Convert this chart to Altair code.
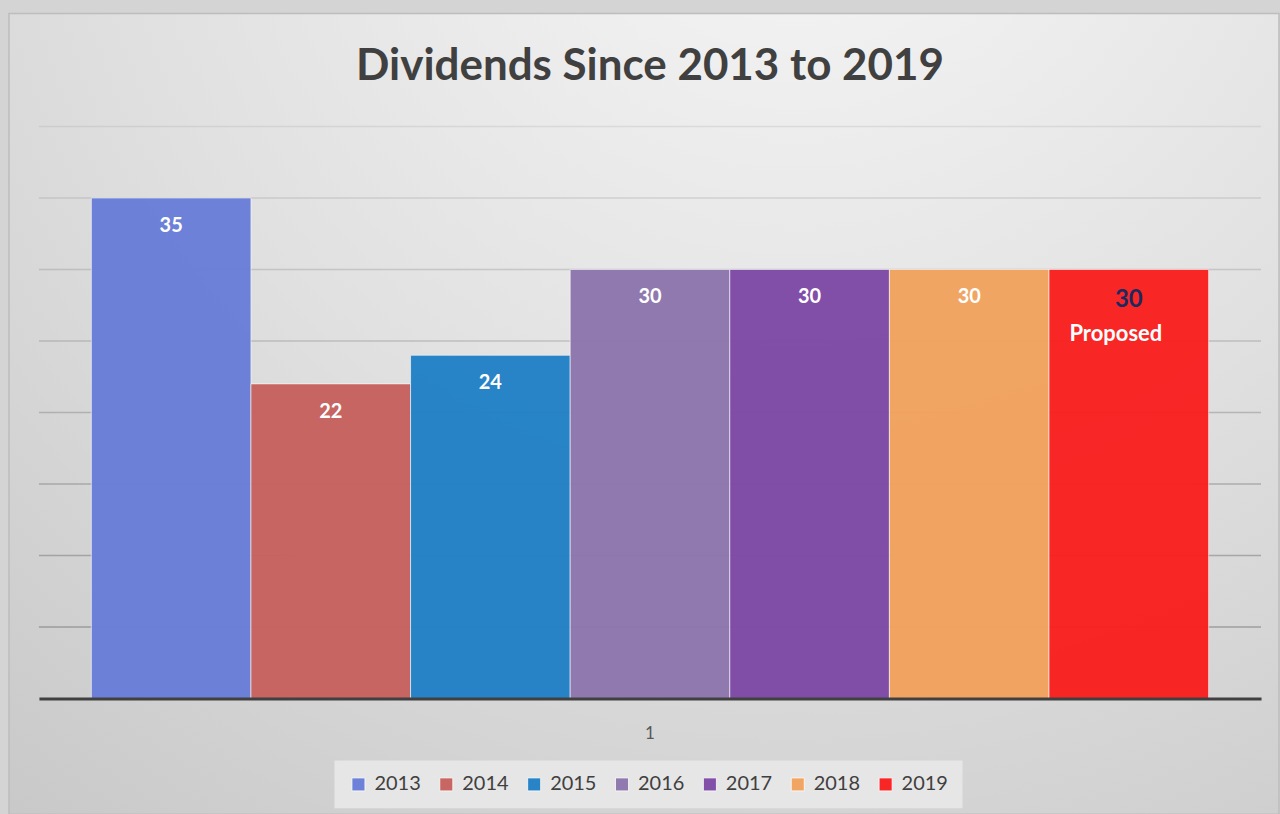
import altair as alt
import pandas as pd

years = ["2013", "2014", "2015", "2016", "2017", "2018", "2019"]
dividends = [35, 22, 24, 30, 30, 30, 30]
status = ["", "", "", "", "", "", "Proposed"]
group = ["1"] * 7
bar_colors = ["#6A7ED8", "#C6625E", "#2281C6", "#8E76AD", "#7E4AA6", "#F2A35E", "#F92120"]
gridlines = [5, 10, 15, 20, 25, 30, 35, 40]

df = pd.DataFrame({"year": years, "value": dividends, "status": status, "g": group})
grid_df = pd.DataFrame({"v": gridlines})

W, H = 1224, 573
FONT = "Lato"

x_enc = alt.X(
    "g:N",
    scale=alt.Scale(paddingInner=0, paddingOuter=0.0469),
    axis=alt.Axis(
        title=None, labelAngle=0, ticks=False, domainColor="#404040", domainWidth=3,
        labelFontSize=17, labelColor="#595959", labelPadding=27, labelFont=FONT, zindex=1,
    ),
)
xoff_enc = alt.XOffset("year:N", sort=years, scale=alt.Scale(paddingInner=0, paddingOuter=0))
y_scale = alt.Scale(domain=[0, 40], nice=False, zero=True)

background = alt.Chart(pd.DataFrame({"a": [0]})).mark_rect(
    fill=alt.RadialGradient(
        gradient="radial",
        x1=0.62, y1=0.02, r1=0.0,
        x2=0.62, y2=0.02, r2=1.0,
        stops=[
            alt.GradientStop(offset=0, color="#f8f8f8"),
            alt.GradientStop(offset=0.55, color="#e0e0e0"),
            alt.GradientStop(offset=1, color="#c9c9c9"),
        ],
    ),
    stroke="#bdbdbd",
    strokeWidth=1.5,
).encode(
    x=alt.value(-30), x2=alt.value(W + 18), y=alt.value(-113), y2=alt.value(H + 116)
)

grid = alt.Chart(grid_df).mark_rule(color="#7a7a7a", strokeWidth=1.5).encode(
    y=alt.Y("v:Q", scale=y_scale, axis=None),
    opacity=alt.Opacity("v:Q", scale=alt.Scale(domain=[5, 40], range=[0.6, 0.15]), legend=None),
)

bars = alt.Chart(df).mark_bar(opacity=0.97, stroke="#ffffff", strokeWidth=1, strokeOpacity=0.6).encode(
    x=x_enc,
    xOffset=xoff_enc,
    y=alt.Y("value:Q", scale=y_scale, axis=None),
    color=alt.Color(
        "year:N",
        sort=years,
        scale=alt.Scale(domain=years, range=bar_colors),
        legend=alt.Legend(
            title=None, orient="none", direction="horizontal", columns=7,
            legendX=296, legendY=635,
            symbolType="square", symbolSize=170, symbolStrokeWidth=0.8, symbolStrokeColor="#ffffff",
            labelFontSize=20, labelColor="#404040", labelFont=FONT,
            columnPadding=15, labelOffset=6,
            fillColor="#e6e6e6", padding=14,
        ),
    ),
)

labels = alt.Chart(df).transform_filter("datum.status == ''").mark_text(
    font=FONT, fontWeight="bold", fontSize=20, color="#ffffff", baseline="middle", dy=28
).encode(
    x=x_enc, xOffset=xoff_enc, y=alt.Y("value:Q", scale=y_scale, axis=None), text="value:Q"
)

prop_value = alt.Chart(df).transform_filter("datum.status != ''").mark_text(
    font=FONT, fontWeight="bold", fontSize=24, color="#1B2A5E", baseline="middle", dy=31
).encode(
    x=x_enc, xOffset=xoff_enc, y=alt.Y("value:Q", scale=y_scale, axis=None), text="value:Q"
)

prop_text = alt.Chart(df).transform_filter("datum.status != ''").mark_text(
    font=FONT, fontWeight="bold", fontSize=22, color="#ffffff", baseline="middle", dy=65, dx=-13
).encode(
    x=x_enc, xOffset=xoff_enc, y=alt.Y("value:Q", scale=y_scale, axis=None), text="status:N"
)

chart = alt.layer(background, grid, bars, labels, prop_value, prop_text).properties(
    width=W,
    height=H,
    padding={"left": 8, "top": 12, "right": 0, "bottom": 0},
    title=alt.TitleParams(
        "Dividends Since 2013 to 2019", font=FONT, fontSize=44, fontWeight="bold",
        color="#404040", anchor="middle", offset=-76,
    ),
).configure_view(stroke=None).configure(background="#d4d4d4")

chart.save("out.html", embed_options={"renderer": "svg", "actions": False})
